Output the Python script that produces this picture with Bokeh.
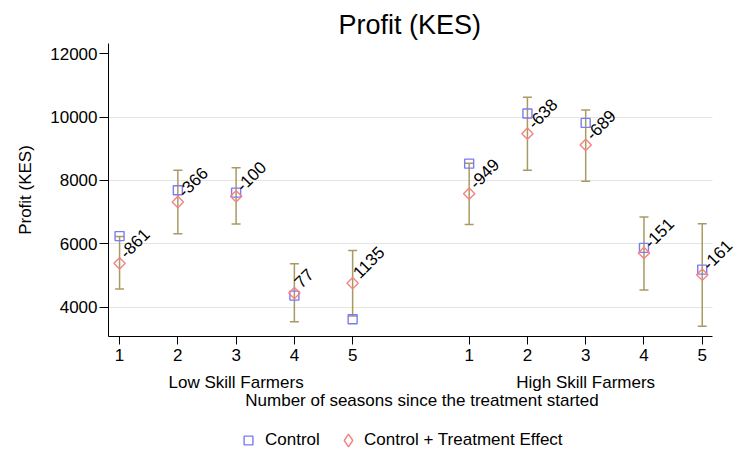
import math
from bokeh.plotting import figure
from bokeh.layouts import column
from bokeh.models import (ColumnDataSource, Range1d, FixedTicker, LinearAxis,
                          Legend, LegendItem, Whisker, TeeHead)
from bokeh.embed import file_html
from bokeh.resources import INLINE

# data
groups = ["Low Skill Farmers", "High Skill Farmers"]
seasons = [1, 2, 3, 4, 5, 1, 2, 3, 4, 5]
group_of = [0, 0, 0, 0, 0, 1, 1, 1, 1, 1]
control = [6245, 7690, 7615, 4370, 3625, 8530, 10110, 9815, 5875, 5190]
control_plus_effect = [5388, 7320, 7500, 4450, 4760, 7582, 9475, 9120, 5715, 5028]
ci_low = [4575, 6320, 6630, 3545, 3725, 6610, 8320, 7975, 4550, 3400]
ci_high = [6235, 8320, 8400, 5370, 5795, 8545, 10620, 10225, 6845, 6635]
effect_labels = ["-861", "-366", "-100", "77", "1135",
                 "-949", "-638", "-689", "-151", "-161"]
y_ticks = [4000, 6000, 8000, 10000, 12000]

FONT = "Liberation Sans"
BLUE = "#7b7bf5"
RED = "#f58282"
BAR = "#a89a62"

# x position: the second group is shifted right by a gap of one slot
xpos = [s + 6 * g for s, g in zip(seasons, group_of)]
X_LO, X_HI = 0.81, 11.18   # visible axis extent

src = ColumnDataSource(dict(x=xpos, control=control, cte=control_plus_effect,
                            lo=ci_low, hi=ci_high, lab=effect_labels))

# frame runs a bit past the axis end so the last labels are not clipped
p = figure(width=739, height=413, output_backend="svg", toolbar_location=None,
           x_range=Range1d(X_LO, 11.571), y_range=Range1d(3080, 12318),
           min_border_left=108, min_border_right=4, min_border_top=43,
           min_border_bottom=77, outline_line_color=None,
           background_fill_color="white", border_fill_color="white")

# title, centred over the axis extent rather than the wider frame
p.title.text = "Profit (KES)"
p.title.align = "left"
p.title.offset = 230
p.title.text_font = FONT
p.title.text_font_size = "27px"
p.title.text_font_style = "normal"
p.title.text_color = "black"
p.title.standoff = 8

# grid only up to the end of the axis
p.xgrid.grid_line_color = None
if "cross_bounds" in p.ygrid[0].properties():
    p.ygrid.ticker = FixedTicker(ticks=y_ticks[:-1])
    p.ygrid.grid_line_color = "#e4e4e4"
    p.ygrid.cross_bounds = (X_LO, X_HI)
else:
    p.ygrid.grid_line_color = None
    p.segment(x0=X_LO, x1=X_HI, y0=y_ticks[:-1], y1=y_ticks[:-1],
              line_color="#e4e4e4", line_width=1, level="underlay")

# error bars
p.add_layout(Whisker(source=src, base="x", lower="lo", upper="hi",
                     line_color=BAR, line_width=1.5,
                     upper_head=TeeHead(size=9, line_color=BAR, line_width=1.5),
                     lower_head=TeeHead(size=9, line_color=BAR, line_width=1.5)))

p.scatter("x", "control", source=src, marker="square", size=9,
          fill_color=None, line_color=BLUE, line_width=1.4)
p.scatter("x", "cte", source=src, marker="square", angle=math.pi / 4,
          size=8, fill_color=None, line_color=RED, line_width=1.4)

p.text("x", "cte", text="lab", source=src, angle=math.pi / 4,
       x_offset=3, y_offset=-8, text_font_size="17px",
       text_font={"value": FONT}, text_color="black",
       text_align="left", text_baseline="alphabetic")

# axes
ya = p.yaxis[0]
ya.ticker = FixedTicker(ticks=y_ticks)
ya.axis_label = "Profit (KES)"
ya.axis_label_text_font = FONT
ya.axis_label_text_font_size = "17px"
ya.axis_label_text_font_style = "normal"
ya.axis_label_standoff = 12
ya.major_label_text_font = FONT
ya.major_label_text_font_size = "17px"
ya.major_label_standoff = 2
ya.major_tick_out = 9
ya.major_tick_in = 0
ya.minor_tick_line_color = None
ya.formatter.use_scientific = False

xa = p.xaxis[0]
xa.ticker = FixedTicker(ticks=xpos)
xa.bounds = (X_LO, X_HI)
xa.major_label_overrides = {x: str(s) for x, s in zip(xpos, seasons)}
xa.major_label_text_font = FONT
xa.major_label_text_font_size = "17px"
xa.major_label_standoff = 4
xa.major_tick_out = 8
xa.major_tick_in = 0
xa.minor_tick_line_color = None

for ax in (ya, xa):
    ax.axis_line_color = "black"
    ax.major_tick_line_color = "black"
    ax.major_label_text_color = "black"
    ax.axis_label_text_color = "black"

# group names with the shared x label underneath
centers = [3 + 6 * g for g in range(len(groups))]
ga = LinearAxis(ticker=FixedTicker(ticks=centers),
                major_label_overrides={c: n for c, n in zip(centers, groups)},
                axis_line_color=None, major_tick_line_color=None,
                minor_tick_line_color=None, major_tick_out=0, major_tick_in=0,
                major_label_standoff=9,
                major_label_text_font=FONT, major_label_text_font_size="17px",
                major_label_text_color="black",
                axis_label="Number of seasons since the treatment started",
                axis_label_standoff=-4, axis_label_text_font=FONT,
                axis_label_text_font_size="17px",
                axis_label_text_font_style="normal",
                axis_label_text_color="black")
p.add_layout(ga, "below")

# legend strip underneath the chart (its frame lines up with the chart's)
leg = figure(width=739, height=38, output_backend="svg", toolbar_location=None,
             x_axis_location=None, y_axis_location=None,
             min_border=0, outline_line_color=None,
             x_range=Range1d(0, 1), y_range=Range1d(0, 1))
leg.grid.grid_line_color = None
# one point outside the visible range, only so the legend has glyphs to draw
r_ctrl = leg.scatter(x=[-1], y=[-1], marker="square",
                     fill_color=None, line_color=BLUE, line_width=1.4)
r_cte = leg.scatter(x=[-1], y=[-1], marker="diamond",
                    fill_color=None, line_color=RED, line_width=1.4)

leg_style = dict(orientation="horizontal", label_text_font=FONT,
                 label_text_font_size="17px", label_text_color="black",
                 padding=0, margin=0, border_line_color=None,
                 background_fill_alpha=0)
# legend keys are sized from the glyph box, so each key gets its own box
leg.add_layout(Legend(items=[LegendItem(label="Control", renderers=[r_ctrl])],
                      location=(129, 0), glyph_width=22, glyph_height=22,
                      label_standoff=6, **leg_style))
leg.add_layout(Legend(items=[LegendItem(label="Control + Treatment Effect",
                                        renderers=[r_cte])],
                      location=(224, -5), glyph_width=32, glyph_height=32,
                      label_standoff=0, **leg_style))

open("out.html", "w").write(file_html(column(p, leg, spacing=0), INLINE))
